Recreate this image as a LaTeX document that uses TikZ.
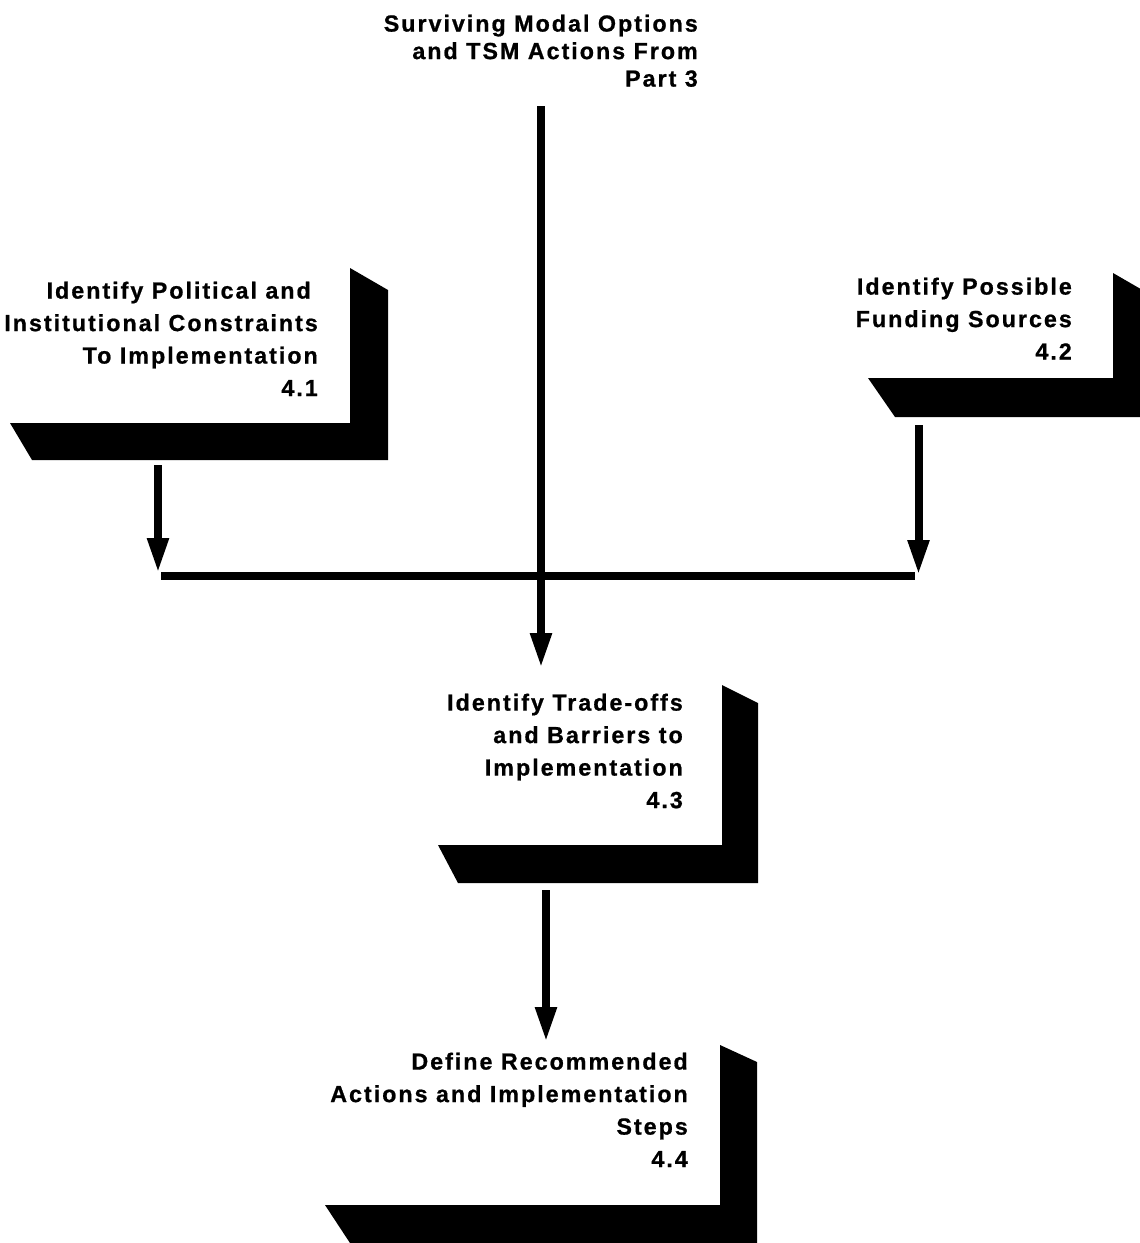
\documentclass[tikz,border=0pt]{standalone}
\usepackage{fontspec}
\setmainfont{Liberation Sans}
\newfontfamily\labfont[LetterSpace=8.5,Ligatures=NoCommon,FakeBold=0.8]{Liberation Sans}
\usetikzlibrary{arrows.meta}
\tikzset{
  lab/.style={font=\labfont\bfseries\fontsize{23.3}{32.5}\selectfont, align=right, inner sep=0pt, anchor=north east},
  slab/.style={fill=black},
  flow/.style={line width=8pt, -{Triangle[length=35pt,width=20pt]}},
  joinbar/.style={line width=8.5pt},
}
\begin{document}
\begin{tikzpicture}[x=1pt,y=-1pt]
\useasboundingbox (0,0) rectangle (1140,1243);

% text of the source and the four steps
\node[lab, font=\labfont\bfseries\fontsize{23.3}{27.5}\selectfont] (src) at (698,14.5) {Surviving Modal Options\\and TSM Actions From\\Part 3};
\node[lab] (b41) at (318,281.5) {Identify Political and\hspace*{7pt}\\Institutional Constraints\\To Implementation\\4.1};
\node[lab] (b42) at (1072,277.5) {Identify Possible\\Funding Sources\\4.2};
\node[lab] (b43) at (683,693.5) {Identify Trade-offs\\and Barriers to\\Implementation\\4.3};
\node[lab] (b44) at (688,1052.5) {Define Recommended\\Actions and Implementation\\Steps\\4.4};

% black slabs of the boxes
\fill[slab] (350,268) -- (388,290) -- (388,460) -- (32,460) -- (10,423) -- (350,423) -- cycle;
\fill[slab] (1113,273) -- (1140,288.6) -- (1140,417) -- (895,417) -- (868,378) -- (1113,378) -- cycle;
\fill[slab] (722,685) -- (758,703) -- (758,883) -- (458,883) -- (438,845) -- (722,845) -- cycle;
\fill[slab] (720,1045) -- (757,1062) -- (757,1243) -- (350,1243) -- (325,1205) -- (720,1205) -- cycle;

% connector end points
\coordinate (ms) at (541,106);
\coordinate (me) at (541,668);
\coordinate (l1s) at (158,465);
\coordinate (l1e) at (158,573);
\coordinate (r2s) at (918.5,425);
\coordinate (r2e) at (918.5,575);
\coordinate (bl) at (161,576);
\coordinate (br) at (915,576);
\coordinate (d3s) at (546,890);
\coordinate (d4e) at (546,1042);

% connectors
\draw[flow] (ms) -- (me);
\draw[flow] (l1s) -- (l1e);
\draw[flow] (r2s) -- (r2e);
\draw[joinbar] (bl) -- (br);
\draw[flow] (d3s) -- (d4e);
\end{tikzpicture}
\end{document}
